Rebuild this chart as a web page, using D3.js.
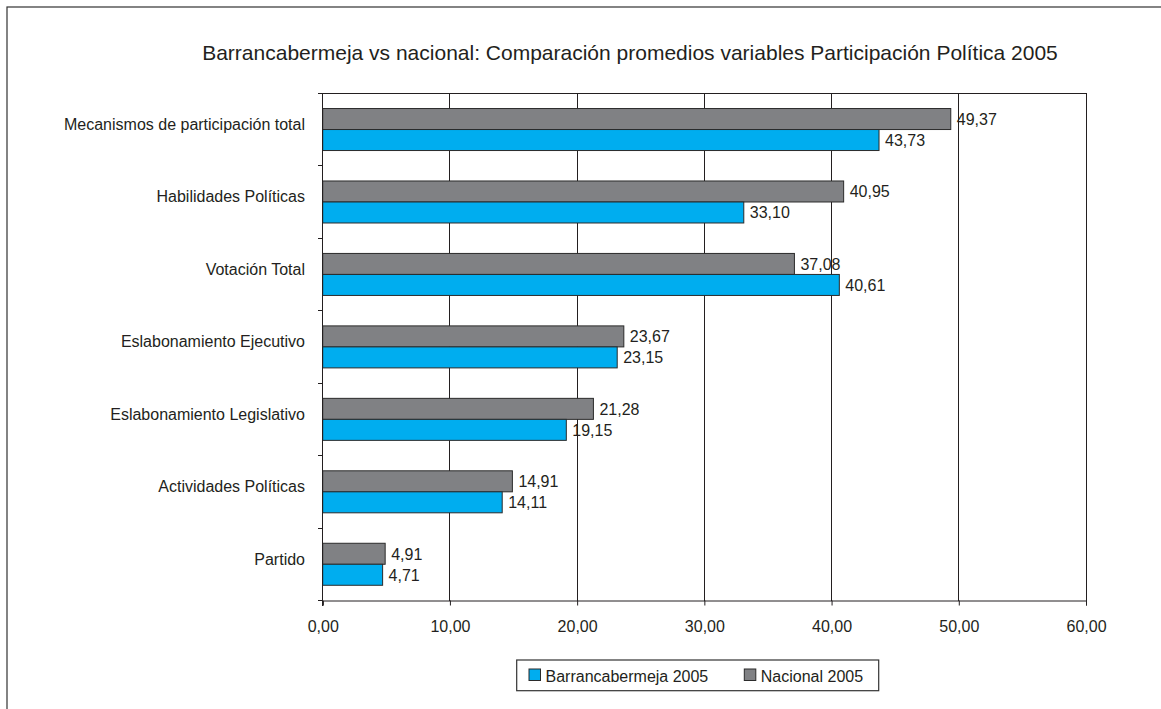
<!DOCTYPE html>
<html>
<head>
<meta charset="utf-8">
<script src="https://cdn.jsdelivr.net/npm/d3@7"></script>
<style>
  html, body { margin: 0; padding: 0; background: #fff; }
  svg { display: block; font-family: "Liberation Sans", Arial, sans-serif; }
</style>
</head>
<body>
<svg id="chart" width="1161" height="709"></svg>
<script>
const title = "Barrancabermeja vs nacional: Comparación promedios variables Participación Política 2005";
const categories = [
  "Mecanismos de participación total",
  "Habilidades Políticas",
  "Votación Total",
  "Eslabonamiento Ejecutivo",
  "Eslabonamiento Legislativo",
  "Actividades Políticas",
  "Partido"
];
const seriesNames = ["Nacional 2005", "Barrancabermeja 2005"];
const nacional = [49.37, 40.95, 37.08, 23.67, 21.28, 14.91, 4.91];
const barranca = [43.73, 33.10, 40.61, 23.15, 19.15, 14.11, 4.71];
const legendOrder = ["Barrancabermeja 2005", "Nacional 2005"];
const xTicks = [0, 10, 20, 30, 40, 50, 60];

const colors = { "Nacional 2005": "#808184", "Barrancabermeja 2005": "#00ADEF" };
const seriesValues = { "Nacional 2005": nacional, "Barrancabermeja 2005": barranca };

const loc = d3.formatLocale({ decimal: ",", thousands: ".", grouping: [3], currency: ["$", ""] });
const fmt = loc.format(".2f");

const svg = d3.select("#chart");
const textColor = "#231f20";
const lineColor = "#231f20";

// outer border
svg.append("rect").attr("x", 7).attr("y", 7).attr("width", 1170).attr("height", 720)
  .attr("fill", "none").attr("stroke", "#333").attr("stroke-width", 1.2);

// title
svg.append("text").attr("x", 630).attr("y", 60).attr("text-anchor", "middle")
  .attr("font-size", 21).attr("fill", textColor).text(title);

const pLeft = 322.7, pRight = 1086, pTop = 93.3, pBottom = 600.5;
const x = d3.scaleLinear().domain([0, 60]).range([pLeft, pRight]);
const y0 = d3.scaleBand().domain(categories).range([pTop, pBottom]).padding(0);
const y1 = d3.scaleBand().domain(seriesNames).range([0, y0.bandwidth()]).paddingInner(0).paddingOuter(0.725);

// gridlines
svg.append("g").selectAll("line").data(xTicks.slice(1)).join("line")
  .attr("x1", d => x(d)).attr("x2", d => x(d))
  .attr("y1", pTop).attr("y2", pBottom)
  .attr("stroke", lineColor).attr("stroke-width", 1).attr("shape-rendering", "crispEdges");
// top border of plot
svg.append("line").attr("x1", pLeft).attr("x2", pRight).attr("y1", pTop).attr("y2", pTop)
  .attr("stroke", lineColor).attr("stroke-width", 1).attr("shape-rendering", "crispEdges");

// bars
const groups = svg.append("g").selectAll("g").data(categories).join("g")
  .attr("transform", d => `translate(0,${y0(d)})`);
groups.selectAll("rect").data((c, i) => seriesNames.map(s => ({ s, v: seriesValues[s][i] }))).join("rect")
  .attr("x", x(0))
  .attr("y", d => y1(d.s))
  .attr("width", d => x(d.v) - x(0))
  .attr("height", y1.bandwidth())
  .attr("fill", d => colors[d.s])
  .attr("stroke", "#2b2b2b").attr("stroke-width", 1);

// data labels
groups.selectAll("text").data((c, i) => seriesNames.map(s => ({ s, v: seriesValues[s][i] }))).join("text")
  .attr("x", d => x(d.v) + 6)
  .attr("y", d => y1(d.s) + y1.bandwidth() / 2 + 5.8)
  .attr("font-size", 16).attr("fill", textColor)
  .text(d => fmt(d.v));

// x axis
const xAxis = d3.axisBottom(x).tickValues(xTicks).tickFormat(fmt).tickSize(5).tickPadding(15);
const gx = svg.append("g").attr("transform", `translate(0,${pBottom})`).call(xAxis);
gx.select(".domain").attr("stroke", lineColor);
gx.selectAll(".tick line").attr("stroke", lineColor);
gx.selectAll(".tick text").attr("font-size", 16).attr("fill", textColor)
  .attr("font-family", "Liberation Sans, Arial, sans-serif");

// y axis: ticks at band boundaries
const yAxisLine = svg.append("g");
yAxisLine.append("line").attr("x1", pLeft).attr("x2", pLeft).attr("y1", pTop).attr("y2", pBottom + 5)
  .attr("stroke", lineColor).attr("shape-rendering", "crispEdges");
const boundaries = categories.map(c => y0(c)).concat([pBottom]);
yAxisLine.selectAll("line.tk").data(boundaries).join("line").attr("class", "tk")
  .attr("x1", pLeft - 5).attr("x2", pLeft).attr("y1", d => d).attr("y2", d => d)
  .attr("stroke", lineColor).attr("shape-rendering", "crispEdges");
svg.append("g").selectAll("text").data(categories).join("text")
  .attr("x", 305).attr("y", d => y0(d) + y0.bandwidth() / 2 + 0.5)
  .attr("text-anchor", "end").attr("font-size", 16).attr("fill", textColor)
  .text(d => d);

// legend
const lg = svg.append("g");
lg.append("rect").attr("x", 516.7).attr("y", 660).attr("width", 362).attr("height", 30.7)
  .attr("fill", "#fff").attr("stroke", "#333").attr("stroke-width", 1.2);
const legendX = [529, 744.3];
legendOrder.forEach((s, i) => {
  lg.append("rect").attr("x", legendX[i]).attr("y", 669).attr("width", 11.5).attr("height", 11.5)
    .attr("fill", colors[s]).attr("stroke", "#2b2b2b").attr("stroke-width", 1);
  lg.append("text").attr("x", legendX[i] + 16.5).attr("y", 681.5)
    .attr("font-size", 16).attr("fill", textColor).text(s);
});
</script>
</body>
</html>
